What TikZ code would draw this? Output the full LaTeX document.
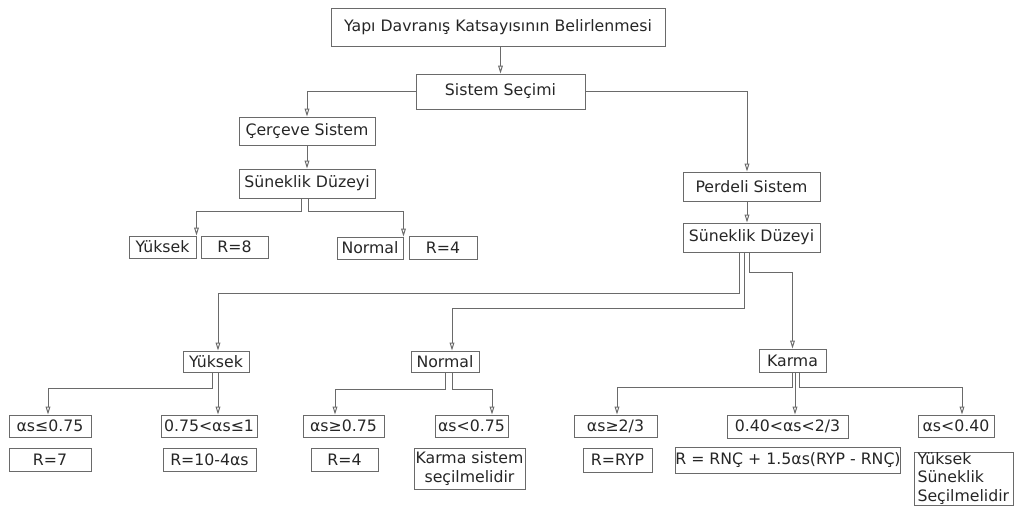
\documentclass[tikz,border=0pt]{standalone}
\usepackage{fontspec}
\setmainfont{DejaVu Sans}
\usetikzlibrary{arrows.meta,calc}
\definecolor{linegray}{HTML}{6A6A6A}
\definecolor{txtgray}{HTML}{262626}
\tikzset{
  box/.style 2 args={draw=linegray, line width=0.75pt, text=txtgray, inner sep=0pt,
    minimum width=0.75pt*#1, minimum height=0.75pt*#2},
  flow/.style={draw=linegray, line width=0.75pt,
    -{Triangle[open,length=6pt,width=3.6pt]}}
}
\begin{document}
\begin{tikzpicture}[x=0.75pt,y=-0.75pt,font=\fontsize{11.8}{14}\selectfont]
      \useasboundingbox (0,0) rectangle (1014,508);
      \draw
        (498,27) node[box={334}{38}] (top){Yapı Davranış Katsayısının Belirlenmesi}
        (500.5,91.5) node[box={169}{35}] (sys){Sistem Seçimi}
        (307,131) node[box={136}{28}] (cer){Çerçeve Sistem}
        (307,183.5) node[box={136}{29}] (sdl){Süneklik Düzeyi}
        (162.5,247) node[box={67}{22}] (yk1){Yüksek}
        (234.5,247) node[box={67}{22}] (r8){R=8}
        (370,248) node[box={66}{22}] (nm1){Normal}
        (443,247.5) node[box={68}{23}] (r4a){R=4}
        (751.5,186.5) node[box={137}{29}] (per){Perdeli Sistem}
        (751.5,237.5) node[box={137}{29}] (sdr){Süneklik Düzeyi}
        (216,361.5) node[box={66}{21}] (yk2){Yüksek}
        (445,361.5) node[box={68}{21}] (nm2){Normal}
        (792.5,360.5) node[box={67}{23}] (kar){Karma}
        (50,426) node[box={82}{22}] (a1){αs≤0.75}
        (50,459.5) node[box={82}{23}] (r7){R=7}
        (209,426) node[box={96}{22}] (a2){0.75<αs≤1}
        (209.5,459.5) node[box={93}{23}] (r10){R=10-4αs}
        (343.5,426) node[box={81}{22}] (a3){αs≥0.75}
        (344.5,459.5) node[box={67}{23}] (r4b){R=4}
        (471.5,426) node[box={73}{22}] (a4){αs<0.75}
        (469.5,468.5) node[box={111}{41}, align=center] (ksm){Karma sistem\\seçilmelidir}
        (615.5,426) node[box={83}{22}] (a5){αs≥2/3}
        (617.5,460) node[box={69}{24}] (ryp){R=RYP}
        (787.5,426.5) node[box={121}{23}] (a6){0.40<αs<2/3}
        (788,460) node[box={222}{26}] (rnc){R = RNÇ + 1.5αs(RYP - RNÇ)}
        (956,426) node[box={76}{22}] (a7){αs<0.40}
        (963.5,478.5) node[box={99}{53}, text width=0.75pt*92, align=left] (yss){Yüksek\\Süneklik\\Seçilmelidir};
      \begin{scope}[flow]
        \draw (top.south -| sys.north) to (sys.north);
        \draw (sys.west) -| (cer.north);
        \draw (sys.east) -| ($(per.north)+(-4.5,0)$);
        \draw (cer.south) to (sdl.north);
        \draw ($(sdl.south)+(-6,0)$) -- ++(0,13) -| (yk1.north east);
        \draw ($(sdl.south)+(1,0)$) -- ++(0,13) -| (nm1.north east);
        \draw ($(per.south)+(-4.5,0)$) to ($(sdr.north)+(-4.5,0)$);
        \draw ($(sdr.south)+(-12.5,0)$) -- ++(0,41) -| ($(yk2.north)+(2,0)$);
        \draw ($(sdr.south)+(-7.5,0)$) -- ++(0,56) -| ($(nm2.north)+(7,0)$);
        \draw ($(sdr.south)+(-2.5,0)$) -- ++(0,20) -| (kar.north);
        \draw ($(yk2.south)+(-4,0)$) -- ++(0,16) -| ($(a1.north)+(-2,0)$);
        \draw ($(yk2.south)+(2,0)$) to ($(a2.north)+(9,0)$);
        \draw (nm2.south) -- ++(0,17) -| ($(a3.north)+(-8.5,0)$);
        \draw ($(nm2.south)+(7,0)$) -- ++(0,17) -| ($(a4.north)+(20.5,0)$);
        \draw ($(kar.south)+(-0.5,0)$) -- ++(0,15) -| ($(a5.north)+(1.5,0)$);
        \draw ($(kar.south)+(2.5,0)$) to ($(a6.north)+(7.5,0)$);
        \draw ($(kar.south)+(6.5,0)$) -- ++(0,15) -| ($(a7.north)+(6,0)$);
      \end{scope}
    \end{tikzpicture}
\end{document}
